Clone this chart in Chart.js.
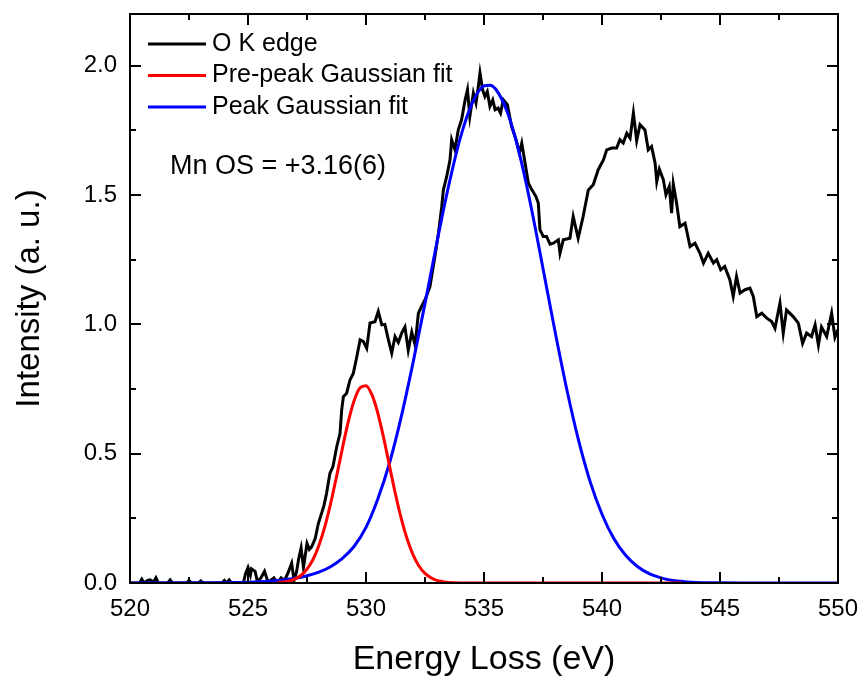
<!DOCTYPE html>
<html>
<head>
<meta charset="utf-8">
<script src="https://cdn.jsdelivr.net/npm/chart.js@4"></script>
<style>
  html, body { margin: 0; padding: 0; background: #fff; }
  #wrap { width: 865px; height: 680px; }
</style>
</head>
<body>
<div id="wrap"><canvas id="eels" width="865" height="680"></canvas></div>
<script>
// O K edge spectrum
const okE = [
  520, 520.4, 520.5, 520.6, 520.75, 520.85, 521.0, 521.1, 521.2, 521.6, 521.7, 521.8, 522.4, 522.5, 522.6, 522.9, 523.0, 523.1, 523.9, 524.0, 524.1, 524.2, 524.3, 524.8,
  524.9, 525.0, 525.1, 525.15, 525.3, 525.4, 525.55, 525.7, 525.85, 526.1, 526.25, 526.4, 526.55, 526.7, 526.85, 526.95, 527.05,
  527.15, 527.25, 527.35, 527.5, 527.6, 527.7, 527.85, 527.98, 528.12, 528.22, 528.33, 528.47, 528.6, 528.76, 528.9,
  528.97, 529.04, 529.18, 529.32, 529.46, 529.6, 529.75, 529.89, 530.03, 530.17, 530.38, 530.52, 530.67, 530.8, 530.95,
  531.09, 531.23, 531.37, 531.51, 531.65, 531.79, 531.94, 532.08, 532.22, 532.36, 532.5, 532.71, 532.92,
  533.07, 533.21, 533.28, 533.42, 533.56, 533.63, 533.77, 533.91, 534.05, 534.2, 534.3, 534.4, 534.55, 534.66, 534.76, 534.83, 534.94,
  535.04, 535.14, 535.25, 535.37, 535.47, 535.6, 535.7, 535.82, 535.99, 536.17, 536.36, 536.5, 536.6, 536.74, 536.88,
  537.03, 537.2, 537.3, 537.37, 537.51, 537.65, 537.8, 537.94, 538.15, 538.22, 538.36, 538.5, 538.64, 538.78, 538.99,
  539.2, 539.42, 539.63, 539.84, 540.06, 540.2, 540.41, 540.62, 540.76, 540.9, 541.05,
  541.19, 541.33, 541.47, 541.61, 541.82, 541.96, 542.1, 542.25, 542.32, 542.43, 542.6, 542.71, 542.85, 542.95, 543.02,
  543.16, 543.3, 543.52, 543.73, 543.94, 544.15, 544.3, 544.5, 544.72, 544.86, 545.03,
  545.2, 545.42, 545.56, 545.7, 545.85, 546.06, 546.27, 546.41, 546.56, 546.77, 546.98, 547.19,
  547.33, 547.54, 547.68, 547.82, 548.1, 548.32, 548.5, 548.67, 548.88, 549.03, 549.17, 549.3, 549.52, 549.73, 549.87, 550
];
const okI = [
  0, 0, 0.015, 0, 0.01, 0.012, 0.004, 0.02, 0, 0, 0.012, 0, 0, 0.01, 0, 0, 0.008, 0, 0, 0.01, 0, 0.012, 0, 0,
  0.037, 0.06, 0.03, 0.055, 0.045, 0.005, 0.02, 0.045, 0.003, 0.02, 0.0, 0.02, 0.01, 0.04, 0.076, 0.01, 0.04,
  0.095, 0.135, 0.06, 0.153, 0.13, 0.14, 0.173, 0.23, 0.27, 0.3, 0.347, 0.424, 0.45, 0.527, 0.579,
  0.669, 0.72, 0.734, 0.785, 0.81, 0.87, 0.94, 0.933, 0.908, 1.005, 1.01, 1.05, 0.998, 1.0, 0.94,
  0.889, 0.953, 0.93, 0.966, 0.99, 0.9, 0.97, 0.92, 1.043, 1.07, 1.095, 1.146, 1.262,
  1.353, 1.456, 1.52, 1.572, 1.636, 1.714, 1.675, 1.752, 1.791, 1.868, 1.907, 1.804, 1.894, 1.856, 1.92, 1.972, 1.907,
  1.881, 1.9, 1.843, 1.868, 1.83, 1.836, 1.817, 1.868, 1.849, 1.765, 1.714, 1.662, 1.701, 1.624, 1.546,
  1.52, 1.494, 1.469, 1.366, 1.34, 1.34, 1.31, 1.314, 1.327, 1.275, 1.327, 1.33, 1.333, 1.417, 1.333,
  1.417, 1.52, 1.54, 1.598, 1.636, 1.675, 1.682, 1.682, 1.714, 1.701, 1.739,
  1.72, 1.817, 1.71, 1.772, 1.752, 1.675, 1.688, 1.624, 1.552, 1.6, 1.559, 1.501, 1.533, 1.43, 1.543,
  1.469, 1.378, 1.391, 1.301, 1.314, 1.275, 1.237, 1.275, 1.237, 1.25, 1.211,
  1.224, 1.172, 1.108, 1.185, 1.121, 1.134, 1.14, 1.108, 1.03, 1.043, 1.024, 1.011,
  0.985, 1.082, 0.966, 1.056, 1.03, 1.005, 0.927, 0.966, 0.953, 0.998, 0.92, 0.99, 0.953, 1.043, 0.95, 0.98
];

// pre-peak fit curve (red)
const preE = [526.25, 526.5, 526.75, 527, 527.25, 527.5, 527.75, 528, 528.25, 528.5, 528.75, 529, 529.25, 529.5, 529.75,
              530, 530.25, 530.5, 530.75, 531, 531.25, 531.5, 531.75, 532, 532.25, 532.5, 532.75, 533, 533.25, 533.5, 534, 535, 543.4];
const preI = [0.002, 0.004, 0.008, 0.016, 0.030, 0.054, 0.090, 0.144, 0.216, 0.307, 0.411, 0.521, 0.624, 0.706, 0.755,
              0.763, 0.728, 0.657, 0.560, 0.451, 0.343, 0.247, 0.168, 0.108, 0.065, 0.037, 0.020, 0.010, 0.005, 0.002, 0.0003, 0, 0];

// main peak fit curve (blue)
const peakE = [520, 524, 524.5, 525, 525.5, 526, 526.5, 527, 527.5, 528, 528.5, 529, 529.5, 530, 530.5, 531, 531.5, 532, 532.5,
               533, 533.5, 534, 534.5, 535, 535.25, 535.5, 536, 536.5, 537, 537.5, 538, 538.5, 539, 539.5, 540, 540.5,
               541, 541.5, 542, 542.5, 543, 543.5, 544, 545, 546, 550];
const peakI = [0, 0.001, 0.002, 0.003, 0.005, 0.008, 0.012, 0.018, 0.028, 0.042, 0.063, 0.095, 0.142, 0.215, 0.325, 0.465, 0.645, 0.855, 1.08,
               1.315, 1.535, 1.722, 1.855, 1.922, 1.925, 1.909, 1.818, 1.660, 1.452, 1.216, 0.977, 0.752, 0.554, 0.391, 0.266, 0.172,
               0.107, 0.064, 0.036, 0.020, 0.010, 0.005, 0.002, 0.0005, 0, 0];

const xTicks = [520, 525, 530, 535, 540, 545, 550];
const yTicks = [0, 0.5, 1.0, 1.5, 2.0];
const seriesNames = ['O K edge', 'Pre-peak Gaussian fit', 'Peak Gaussian fit'];
const seriesColors = ['#000000', '#ff0000', '#0000ff'];
const osNote = 'Mn OS = +3.16(6)';

const FONT = '"Liberation Sans", Arial, sans-serif';

function pts(xs, ys) {
  return xs.map((x, i) => ({ x: x, y: ys[i] }));
}

// box frame + inward major/minor ticks on all four sides
const frameTicks = {
  id: 'frameTicks',
  afterDatasetsDraw(chart) {
    const { ctx, chartArea: a, scales: { x, y } } = chart;
    ctx.save();
    ctx.strokeStyle = '#000';
    ctx.lineWidth = 2;
    ctx.strokeRect(a.left, a.top, a.right - a.left, a.bottom - a.top);
    ctx.beginPath();
    for (let i = 0; i <= 12; i++) {
      const px = Math.round(x.getPixelForValue(520 + i * 2.5));
      const len = i % 2 === 0 ? 11 : 6;
      ctx.moveTo(px, a.bottom); ctx.lineTo(px, a.bottom - len);
      ctx.moveTo(px, a.top);    ctx.lineTo(px, a.top + len);
    }
    for (let i = 0; i <= 8; i++) {
      const py = Math.round(y.getPixelForValue(i * 0.25));
      const len = i % 2 === 0 ? 11 : 6;
      ctx.moveTo(a.left, py);  ctx.lineTo(a.left + len, py);
      ctx.moveTo(a.right, py); ctx.lineTo(a.right - len, py);
    }
    ctx.stroke();
    ctx.restore();
  }
};

// legend and oxidation-state note inside the plot
const insideText = {
  id: 'insideText',
  afterDraw(chart) {
    const ctx = chart.ctx;
    ctx.save();
    ctx.textBaseline = 'middle';
    ctx.textAlign = 'left';
    ctx.font = '25px ' + FONT;
    chart.data.datasets.forEach((ds, i) => {
      const yy = 44 + i * 31.5;
      ctx.strokeStyle = ds.borderColor;
      ctx.lineWidth = 3;
      ctx.beginPath();
      ctx.moveTo(148, yy);
      ctx.lineTo(206, yy);
      ctx.stroke();
      ctx.fillStyle = '#000';
      ctx.fillText(ds.label, 212, yy);
    });
    ctx.font = '27px ' + FONT;
    ctx.fillText(osNote, 170, 167);
    ctx.restore();
  }
};

const line = (i, xs, ys, order, smooth) => ({
  label: seriesNames[i],
  data: pts(xs, ys),
  borderColor: seriesColors[i],
  backgroundColor: seriesColors[i],
  borderWidth: 3,
  pointRadius: 0,
  fill: false,
  tension: 0,
  cubicInterpolationMode: smooth ? 'monotone' : 'default',
  order: order,
});

new Chart(document.getElementById('eels'), {
  type: 'line',
  data: {
    datasets: [
      line(0, okE, okI, 3, false),
      line(1, preE, preI, 1, true),
      line(2, peakE, peakI, 2, true),
    ]
  },
  options: {
    responsive: false,
    animation: false,
    devicePixelRatio: 1,
    layout: { padding: { top: 14, right: 27, left: 0, bottom: 0 } },
    plugins: { legend: { display: false }, tooltip: { enabled: false } },
    scales: {
      x: {
        type: 'linear',
        min: 520, max: 550,
        afterFit: s => { s.height = 97; s.paddingLeft = 0; s.paddingRight = 0; },
        afterBuildTicks: s => { s.ticks = xTicks.map(v => ({ value: v })); },
        ticks: { color: '#000', font: { family: FONT, size: 24 }, padding: 12, maxRotation: 0, autoSkip: false },
        grid: { display: false, drawTicks: false },
        border: { display: false },
        title: { display: true, text: 'Energy Loss (eV)', color: '#000', font: { family: FONT, size: 34 }, padding: { top: 0, bottom: 0 } },
      },
      y: {
        type: 'linear',
        min: 0, max: 2.2,
        afterFit: s => { s.width = 130; s.paddingTop = 0; s.paddingBottom = 0; },
        afterBuildTicks: s => { s.ticks = yTicks.map(v => ({ value: v })); },
        ticks: { color: '#000', font: { family: FONT, size: 24 }, padding: 13, callback: v => v.toFixed(1) },
        grid: { display: false, drawTicks: false },
        border: { display: false },
        title: { display: true, text: 'Intensity (a. u.)', color: '#000', font: { family: FONT, size: 33 }, padding: { top: 10, bottom: 0 } },
      }
    }
  },
  plugins: [frameTicks, insideText]
});
</script>
</body>
</html>
